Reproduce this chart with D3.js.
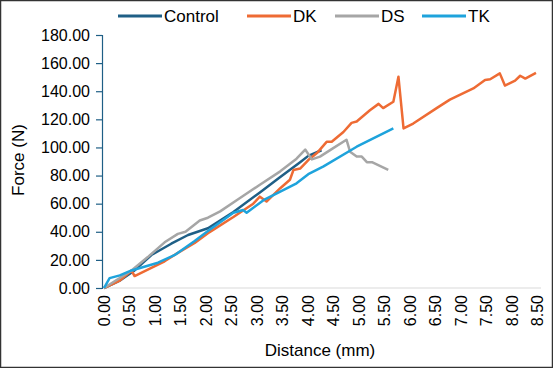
<!DOCTYPE html>
<html>
<head>
<meta charset="utf-8">
<script src="https://cdn.jsdelivr.net/npm/d3@7"></script>
<style>
  body { margin: 0; background: #fff; }
  text { font-family: "Liberation Sans", Arial, sans-serif; fill: #000; }
</style>
</head>
<body>
<div id="chart"></div>
<script>
var width = 553, height = 368;

// series: [distance mm, force N]
var seriesNames = ["Control", "DK", "DS", "TK"];
var seriesColors = ["#1f5f86", "#ee6b34", "#a6a6a6", "#1ea3dc"];

var control = [[0,0],[0.3,5],[0.6,12.5],[0.93,23.5],[1.32,31.5],[1.65,37.7],[2.04,42.5],[2.54,54],[3.06,68],[3.46,79],[3.85,89.5],[4.01,94],[4.27,98]];
var dk = [[0,0],[0.3,5],[0.54,12.5],[0.6,8.5],[0.86,13],[1.19,19],[1.45,25],[1.78,32],[2.04,39],[2.15,41.5],[2.54,50.5],[2.93,60],[3.06,65],[3.19,61.5],[3.46,71],[3.65,77],[3.72,84],[3.85,85],[4.01,91],[4.18,96],[4.37,104],[4.47,104],[4.7,111],[4.86,117.5],[4.96,118.5],[5.22,126.5],[5.39,131],[5.48,128],[5.68,132.5],[5.78,150.3],[5.88,113.5],[6.07,117],[6.53,128],[6.79,134],[7.25,142],[7.48,148],[7.58,148.5],[7.77,152.7],[7.87,144],[8.07,147.5],[8.17,151],[8.27,149],[8.48,153]];
var ds = [[0,0],[0.54,12.5],[0.86,22],[1.19,32.5],[1.45,38.5],[1.6,40],[1.88,48],[2.04,50],[2.28,54.5],[2.67,64],[3.06,73.5],[3.46,83],[3.78,92],[3.95,98.5],[4.08,91.5],[4.24,93.5],[4.5,99.5],[4.76,105.5],[4.83,97],[4.96,93.5],[5.06,93.5],[5.16,89.5],[5.26,89.5],[5.58,84]];
var tk = [[0,0],[0.11,7],[0.31,9],[0.54,12.5],[1.06,18],[1.39,23.5],[1.78,33.5],[2.04,40.5],[2.54,53.5],[2.73,55.5],[2.8,53.5],[3.13,62.5],[3.46,68.5],[3.78,74.5],[4.01,81],[4.31,86.5],[4.96,100.5],[5.68,113.6]];

var xTicks = d3.range(0, 8.51, 0.5);
var yTicks = d3.range(0, 181, 20);

var svg = d3.select("#chart").append("svg")
    .attr("width", width)
    .attr("height", height);

svg.append("rect")
    .attr("x", 0.5).attr("y", 0.5)
    .attr("width", width - 1).attr("height", height - 1)
    .attr("fill", "#fff")
    .attr("stroke", "#333")
    .attr("stroke-width", 1.5);

var x = d3.scaleLinear().domain([0, 8.5]).range([104, 537]);
var y = d3.scaleLinear().domain([0, 180]).range([288, 35]);

// x axis: light baseline, rotated labels, no ticks
svg.append("line")
    .attr("x1", 102).attr("x2", 541)
    .attr("y1", y(0)).attr("y2", y(0))
    .attr("stroke", "#d9d9d9")
    .attr("stroke-width", 1);

svg.selectAll(".xlab")
    .data(xTicks)
  .enter().append("text")
    .attr("class", "xlab")
    .attr("transform", function(d) { return "translate(" + (x(d) + 6) + ",295) rotate(-90)"; })
    .attr("text-anchor", "end")
    .style("font-size", "16px")
    .text(function(d) { return d.toFixed(2); });

// y axis
var yAxis = svg.append("g")
    .attr("transform", "translate(102,0)")
    .call(d3.axisLeft(y).tickValues(yTicks).tickSize(6).tickPadding(6)
      .tickFormat(function(d) { return d.toFixed(2); }));
yAxis.select(".domain").attr("stroke", "#1f5f86").attr("stroke-width", 1.2);
yAxis.selectAll(".tick line").attr("stroke", "#1f5f86").attr("stroke-width", 1.2);
yAxis.selectAll(".tick text")
    .style("font-size", "16px")
    .style("font-family", "Liberation Sans, Arial, sans-serif")
    .attr("fill", "#000");

var line = d3.line()
    .x(function(d) { return x(d[0]); })
    .y(function(d) { return y(d[1]); });

var allSeries = [control, dk, ds, tk];
svg.selectAll(".series")
    .data(allSeries)
  .enter().append("path")
    .attr("class", "series")
    .attr("d", line)
    .attr("fill", "none")
    .attr("stroke", function(d, i) { return seriesColors[i]; })
    .attr("stroke-width", 2.5)
    .attr("stroke-linejoin", "round");

// legend
var legendX = [118, 247, 335, 422];
var lg = svg.selectAll(".legend")
    .data(seriesNames)
  .enter().append("g")
    .attr("class", "legend")
    .attr("transform", function(d, i) { return "translate(" + legendX[i] + ",16)"; });
lg.append("line")
    .attr("x1", 0).attr("x2", 44)
    .attr("stroke", function(d, i) { return seriesColors[i]; })
    .attr("stroke-width", 3);
lg.append("text")
    .attr("x", 46)
    .attr("dy", "0.35em")
    .style("font-size", "17px")
    .text(function(d) { return d; });

// axis titles
svg.append("text")
    .attr("transform", "translate(24,160) rotate(-90)")
    .attr("text-anchor", "middle")
    .style("font-size", "17px")
    .text("Force (N)");

svg.append("text")
    .attr("x", 320).attr("y", 356)
    .attr("text-anchor", "middle")
    .style("font-size", "17px")
    .text("Distance (mm)");
</script>
</body>
</html>
